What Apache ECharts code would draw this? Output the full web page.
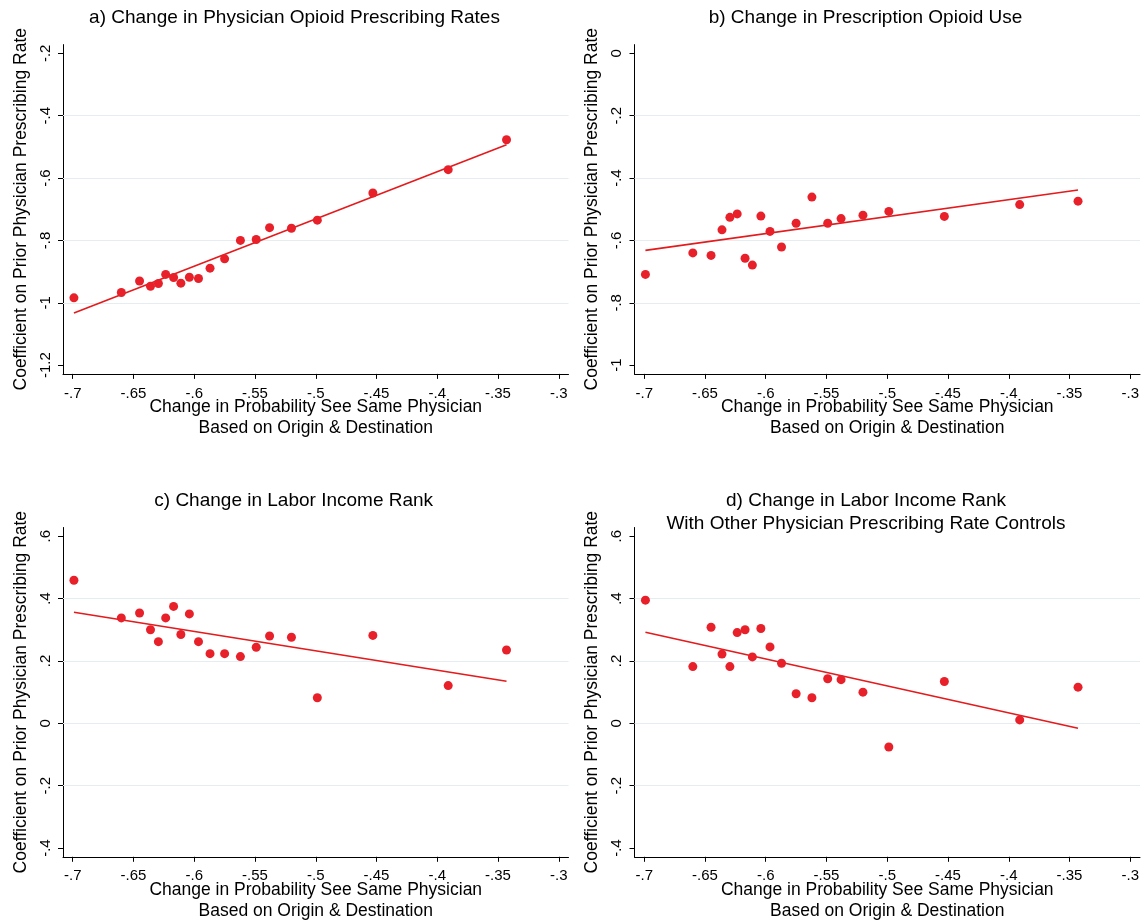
<!DOCTYPE html>
<html>
<head>
<meta charset="utf-8">
<title>Prior physician prescribing rate coefficients</title>
<script src="https://cdn.jsdelivr.net/npm/echarts@6/dist/echarts.min.js"></script>
<style>
  html, body { margin: 0; padding: 0; background: #ffffff; }
  #chart { width: 1141px; height: 922px; }
</style>
</head>
<body>
<div id="chart"></div>
<script>
// Binned change in probability of seeing the same physician (shared by all panels)
const binX = [-0.699, -0.660, -0.645, -0.636, -0.6295, -0.6235, -0.617, -0.611, -0.604, -0.5965,
              -0.587, -0.575, -0.562, -0.549, -0.538, -0.520, -0.4987, -0.453, -0.391, -0.343];

// Panel a) physician opioid prescribing rates
const coefA = [-0.984, -0.967, -0.930, -0.947, -0.938, -0.909, -0.919, -0.937, -0.918, -0.922,
               -0.889, -0.859, -0.800, -0.797, -0.759, -0.761, -0.735, -0.648, -0.573, -0.477];
const fitA = [-1.033, -0.493];

// Panel b) prescription opioid use
const coefB = [-0.709, -0.640, -0.648, -0.566, -0.526, -0.515, -0.657, -0.679, -0.522, -0.571,
               -0.621, -0.545, -0.461, -0.545, -0.530, -0.519, -0.507, -0.523, -0.485, -0.474];
const fitB = [-0.632, -0.4385];

// Panel c) labor income rank
const coefC = [0.459, 0.338, 0.354, 0.300, 0.262, 0.338, 0.375, 0.285, 0.351, 0.262,
               0.2235, 0.2235, 0.214, 0.244, 0.280, 0.276, 0.082, 0.282, 0.121, 0.235];
const fitC = [0.356, 0.135];

// Panel d) labor income rank with other physician prescribing rate controls
const coefD = [0.395, 0.182, 0.308, 0.222, 0.182, 0.291, 0.300, 0.213, 0.304, 0.245,
               0.1925, 0.095, 0.082, 0.143, 0.140, 0.100, -0.076, 0.134, 0.011, 0.116];
const fitD = [0.292, -0.016];

// Tick values
const xTicks = [-0.7, -0.65, -0.6, -0.55, -0.5, -0.45, -0.4, -0.35, -0.3];
const yTicksA = [-1.2, -1, -0.8, -0.6, -0.4, -0.2];
const yTicksB = [-1, -0.8, -0.6, -0.4, -0.2, 0];
const yTicksCD = [-0.4, -0.2, 0, 0.2, 0.4, 0.6];

// Horizontal reference lines (interior ticks only)
const gridA = [-1, -0.8, -0.6, -0.4];
const gridB = [-0.8, -0.6, -0.4, -0.2];
const gridCD = [-0.2, 0, 0.2, 0.4];

// Titles
const titles = [
  ['a) Change in Physician Opioid Prescribing Rates'],
  ['b) Change in Prescription Opioid Use'],
  ['c) Change in Labor Income Rank'],
  ['d) Change in Labor Income Rank', 'With Other Physician Prescribing Rate Controls']
];
const xName = 'Change in Probability See Same Physician\nBased on Origin & Destination';
const yName = 'Coefficient on Prior Physician Prescribing Rate';

const FONT = '"Liberation Sans", Arial, Helvetica, sans-serif';
const RED = '#e8202a';
const LINE_RED = '#e41a1c';
const GRIDLINE = '#e6edf0';

// Stata-style number labels: -.65, .4, 0, -1.2
function stataLabel(v) {
  const r = Math.round(v * 1000) / 1000;
  if (r === 0) return '0';
  return String(r).replace(/^(-?)0\./, '$1.');
}

const panels = [
  { coef: coefA, fit: fitA, yTicks: yTicksA, grid: gridA, ymin: -1.228, ymax: -0.172, left: 63, top: 44.6, title: titles[0], tx: 294.5, ty: [17.5] },
  { coef: coefB, fit: fitB, yTicks: yTicksB, grid: gridB, ymin: -1.028, ymax: 0.028, left: 634.5, top: 44.6, title: titles[1], tx: 865.5, ty: [17.5] },
  { coef: coefC, fit: fitC, yTicks: yTicksCD, grid: gridCD, ymin: -0.428, ymax: 0.628, left: 63, top: 527.5, title: titles[2], tx: 293.7, ty: [500.7] },
  { coef: coefD, fit: fitD, yTicks: yTicksCD, grid: gridCD, ymin: -0.428, ymax: 0.628, left: 634.5, top: 527.5, title: titles[3], tx: 866, ty: [500.7, 523.3] }
];

const PLOT_W = 505.5;
const PLOT_H = 329.3;

const grids = [], xAxes = [], yAxes = [], series = [], graphics = [];

panels.forEach((p, i) => {
  grids.push({ left: p.left, top: p.top, width: PLOT_W, height: PLOT_H, containLabel: false, outerBoundsMode: 'none' });

  xAxes.push({
    type: 'value', gridIndex: i, min: -0.708, max: -0.292,
    axisLine: { show: true, onZero: false, lineStyle: { color: '#000', width: 1 } },
    axisTick: { show: true, length: 5, customValues: xTicks, lineStyle: { color: '#000', width: 1 } },
    axisLabel: { show: true, customValues: xTicks, formatter: stataLabel, fontSize: 15, fontFamily: FONT, color: '#000', margin: 12 },
    splitLine: { show: false },
    name: xName, nameLocation: 'middle', nameGap: 23, nameMoveOverlap: false,
    nameTextStyle: { fontSize: 17.5, fontFamily: FONT, color: '#000', lineHeight: 21 }
  });

  yAxes.push({
    type: 'value', gridIndex: i, min: p.ymin, max: p.ymax,
    axisLine: { show: true, onZero: false, lineStyle: { color: '#000', width: 1 } },
    axisTick: { show: true, length: 5, customValues: p.yTicks, lineStyle: { color: '#000', width: 1 } },
    axisLabel: { show: true, customValues: p.yTicks, formatter: stataLabel, rotate: 90, fontSize: 15, fontFamily: FONT, color: '#000', margin: 10 },
    splitLine: { show: false },
    name: yName, nameLocation: 'middle', nameGap: 33, nameMoveOverlap: false,
    nameTextStyle: { fontSize: 17.5, fontFamily: FONT, color: '#000' }
  });

  // light horizontal reference lines, kept on the bottom layer
  series.push({
    type: 'line', xAxisIndex: i, yAxisIndex: i, data: [], zlevel: 0, z: 1, silent: true,
    markLine: {
      silent: true, symbol: 'none', animation: false,
      label: { show: false },
      lineStyle: { color: GRIDLINE, width: 1.2, type: 'solid' },
      data: p.grid.map(v => ({ yAxis: v }))
    }
  });

  // fitted line across the range of the bins
  series.push({
    type: 'line', xAxisIndex: i, yAxisIndex: i, zlevel: 1, z: 2, silent: true,
    symbol: 'none', animation: false,
    lineStyle: { color: LINE_RED, width: 1.6 },
    data: [[binX[0], p.fit[0]], [binX[binX.length - 1], p.fit[1]]]
  });

  // binned coefficients
  series.push({
    type: 'scatter', xAxisIndex: i, yAxisIndex: i, zlevel: 1, z: 3, silent: true,
    symbol: 'circle', symbolSize: 9, animation: false,
    itemStyle: { color: RED, opacity: 1 },
    data: binX.map((x, k) => [x, p.coef[k]])
  });

  p.title.forEach((t, k) => {
    graphics.push({
      type: 'text', x: p.tx, y: p.ty[k], silent: true,
      style: { text: t, fontSize: 19, fontFamily: FONT, fill: '#000', align: 'center', verticalAlign: 'middle' }
    });
  });
});

const chart = echarts.init(document.getElementById('chart'), null, { renderer: 'canvas' });
chart.setOption({
  backgroundColor: '#ffffff',
  animation: false,
  grid: grids,
  xAxis: xAxes,
  yAxis: yAxes,
  series: series,
  graphic: graphics
});
</script>
</body>
</html>
